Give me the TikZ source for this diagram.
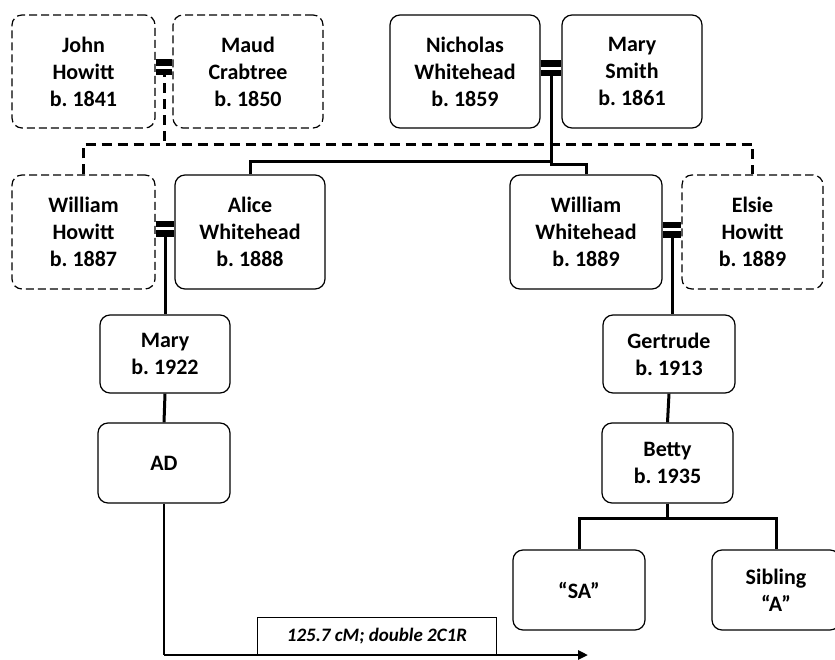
\documentclass[tikz,border=0pt]{standalone}
\usepackage{fontspec}
\setmainfont{Carlito}
\usepackage{tikz}
\usetikzlibrary{calc,arrows.meta}
\frenchspacing
\tikzset{
	person/.style={draw, line width=1.2pt, rounded corners=10pt, align=center, inner sep=0pt,
		font=\bfseries\fontsize{22}{27}\selectfont, minimum height=#1},
	person/.default=113pt,
	inlaw/.style={person=#1, dash pattern=on 8pt off 4pt},
	inlaw/.default=113pt,
	kin/.style={line width=3pt},
	kindash/.style={line width=3pt, dash pattern=on 10pt off 6pt},
	wed/.style={line width=6.5pt, double=white, double distance=3pt},
	cmlabel/.style={draw, line width=1.2pt, inner sep=0pt, minimum width=239pt, minimum height=37pt,
		font=\bfseries\itshape\fontsize{19}{22}\selectfont}
}

\begin{document}
\begin{tikzpicture}[x=1pt, y=-1pt]
		%%%%% START %%%%%
		\useasboundingbox (0, 0) rectangle (835, 660);
		
		% generation 1
		\node[inlaw, minimum width=143pt] (john) at (83.5, 71.5) {John\\Howitt\\b. 1841};
		\node[inlaw, minimum width=150pt] (maud) at (248, 71.5) {Maud\\Crabtree\\b. 1850};
		\node[person, minimum width=150pt] (nicholas) at (465, 71.5) {Nicholas\\Whitehead\\b. 1859};
		\node[person, minimum width=140pt] (msmith) at (632, 71.5) {Mary\\Smith\\b. 1861};
		
		% generation 2
		\node[inlaw=114pt, minimum width=143pt] (whowitt) at (83.5, 232) {William\\Howitt\\b. 1887};
		\node[person=114pt, minimum width=150pt] (alice) at (250, 232) {Alice\\Whitehead\\b. 1888};
		\node[person=114pt, minimum width=152pt] (wwhite) at (586, 232) {William\\Whitehead\\b. 1889};
		\node[inlaw=114pt, minimum width=141pt] (elsie) at (752.5, 232) {Elsie\\Howitt\\b. 1889};
		
		% generations 3 to 5
		\node[person=78pt, minimum width=130pt] (mary) at (165, 354) {Mary\\b. 1922};
		\node[person=78pt, minimum width=132pt] (gertrude) at (669, 354) {Gertrude\\b. 1913};
		\node[person=80pt, minimum width=132pt] (ad) at (164, 463) {AD};
		\node[person=80pt, minimum width=131pt] (betty) at (667.5, 463) {Betty\\b. 1935};
		\node[person=80pt, minimum width=132pt] (sa) at (579, 590) {``SA''};
		\node[person=80pt, minimum width=128pt] (sibling) at (776, 590) {Sibling\\``A''};
		
		% marriages
		\coordinate (m1) at ($([yshift=4pt]john.east)!0.5!([yshift=4pt]maud.west)$);
		\coordinate (m2) at ($([yshift=3pt]nicholas.east)!0.5!([yshift=3pt]msmith.west)$);
		\coordinate (m3) at ($([yshift=3pt]whowitt.east)!0.5!([yshift=3pt]alice.west)$);
		\coordinate (m4) at ($([yshift=2pt]wwhite.east)!0.5!([yshift=2pt]elsie.west)$);
		
		\draw[kindash] (m1) -- (m1 |- 0, 145);
		\draw[kindash] (whowitt.north) -- ++(0, -30) -| (elsie.north);
		\draw[kin] (alice.north) -- ++(0, -13) -| (m2);
		\draw[kin] (wwhite.north) -- ++(0, -10) -| (m2);
		\draw[kin] (m3) -- (m3 |- mary.north);
		\draw[kin] (m4) -- (m4 |- gertrude.north);
		
		\draw[wed] ([yshift=4pt]john.east) -- ([yshift=4pt]maud.west);
		\draw[wed] ([yshift=3pt]nicholas.east) -- ([yshift=3pt]msmith.west);
		\draw[wed] ([yshift=3pt]whowitt.east) -- ([yshift=3pt]alice.west);
		\draw[wed] ([yshift=2pt]wwhite.east) -- ([yshift=2pt]elsie.west);
		
		% descent
		\draw[kin] (mary.south) -- (ad.north);
		\draw[kin] (gertrude.south) -- (betty.north);
		\draw[kin] (betty.south) -- ++(0, 15) -| (sa.north);
		\draw[kin] (betty.south) -- ++(0, 15) -| (sibling.north);
		
		% the match
		\coordinate (corner) at (ad.south |- 0, 655);
		\coordinate (tip) at (588, 655);
		\draw[line width=1.5pt] (ad.south) -- (corner);
		\draw[line width=2.5pt, -{Triangle[length=10pt, width=9pt]}] (corner) -- (tip);
		\node[cmlabel, anchor=south] (cm) at (377, 655) {125.7 cM; double 2C1R};
		
		%%%%% END %%%%%
\end{tikzpicture}
\end{document}
